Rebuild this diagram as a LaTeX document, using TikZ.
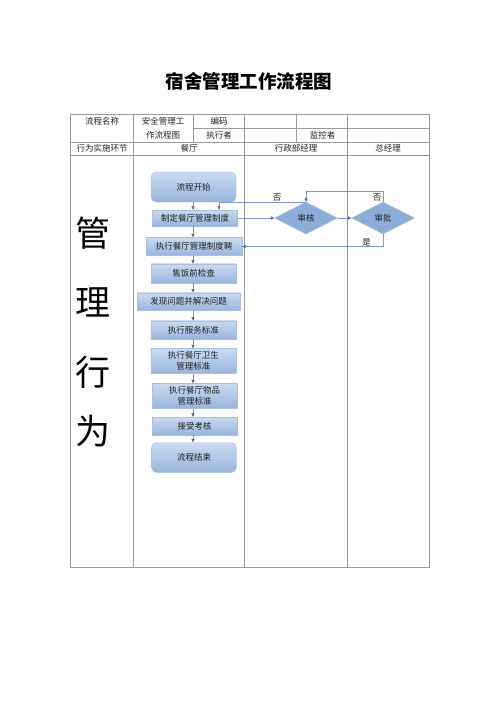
\documentclass[tikz,border=0pt]{standalone}
\usepackage{fontspec}
\setmainfont{Noto Sans CJK SC}
\usetikzlibrary{arrows.meta, positioning, shapes.geometric, calc}
\definecolor{CLine}{HTML}{9A9A9A}
\definecolor{CBoxTop}{HTML}{CBDAF0}
\definecolor{CBoxBot}{HTML}{98B4DC}
\definecolor{CBoxEdge}{HTML}{A9C0E2}
\definecolor{CDiamond}{HTML}{8DACD8}
\definecolor{CFlow}{HTML}{7F97C4}
\definecolor{CTip}{HTML}{4B6596}
\definecolor{CText}{HTML}{222222}

\begin{document}
\begin{tikzpicture}[x=1pt, y=-1pt,
    box/.style={draw=CBoxEdge, top color=CBoxTop, bottom color=CBoxBot, minimum width=85pt, inner sep=1pt, align=center, font=\fontsize{8.5}{10.5}\selectfont, text=CText},
    term/.style={box, rounded corners=5pt, minimum height=30pt},
    check/.style={diamond, draw=CBoxEdge, fill=CDiamond, aspect=2, minimum width=63pt, minimum height=32pt, inner sep=0pt, font=\fontsize{8.5}{10}\selectfont, text=CText},
    flow/.style={CFlow, line width=0.6pt, -{Triangle[length=3.5pt, width=3.2pt, color=CTip]}},
    cell/.style={font=\fontsize{8.5}{10}\selectfont, text=CText, inner sep=0pt}]
    \useasboundingbox (0,0) rectangle (500,707);

    % Title
    \node[font=\fontsize{18.5}{20}\selectfont\bfseries, text=black] (title) at (249,81.5) {宿舍管理工作流程图};

    % --- Form grid ---
    \draw[CLine, line width=0.8pt] (70.7,114.3) rectangle (429,567);
    \draw[CLine, line width=0.8pt] (70.7,142.3) -- (429,142.3);
    \draw[CLine, line width=0.8pt] (70.7,155) -- (429,155);
    \draw[CLine, line width=0.8pt] (193.3,128.3) -- (429,128.3);
    \draw[CLine, line width=0.8pt] (133.3,114.3) -- (133.3,567);
    \draw[CLine, line width=0.8pt] (193.3,114.3) -- (193.3,142.3);
    \draw[CLine, line width=0.8pt] (244.3,114.3) -- (244.3,567);
    \draw[CLine, line width=0.8pt] (296,114.3) -- (296,142.3);
    \draw[CLine, line width=0.8pt] (347.3,114.3) -- (347.3,567);

    % Header texts
    \node[cell] (nameH) at (102,121.5) {流程名称};
    \node[cell] (nameA) at (163,121.5) {安全管理工};
    \node[cell] (nameB) at (163,135.2) {作流程图};
    \node[cell] (codeH) at (219,121.5) {编码};
    \node[cell] (execH) at (219,135.2) {执行者};
    \node[cell] (monH) at (322.5,135.2) {监控者};
    \node[cell] (stepH) at (102,148.7) {行为实施环节};
    \node[cell] (laneA) at (189,148.7) {餐厅};
    \node[cell] (laneB) at (296,148.7) {行政部经理};
    \node[cell] (laneC) at (388,148.7) {总经理};

    % Vertical caption
    \foreach \ch/\y in {管/233, 理/302, 行/372, 为/431} {
        \node[font=\fontsize{35}{35}\selectfont, text=black] (act\y) at (93,\y) {\ch};
    }

    % --- Restaurant lane ---
    \node[term] (start) at (193.5,187) {流程开始};
    \node[box, minimum height=16pt] (rule) at (195,218) {制定餐厅管理制度};
    \node[box, minimum width=96pt, minimum height=18pt] (exec) at (194,246.5) {执行餐厅管理制度聘};
    \node[box, minimum height=19pt] (inspect) at (193.5,273.3) {售饭前检查};
    \node[box, minimum width=103pt, minimum height=17.5pt] (solve) at (188.7,301.5) {发现问题并解决问题};
    \node[box, minimum height=18.5pt] (service) at (193.3,330) {执行服务标准};
    \node[box, minimum height=25pt] (hygiene) at (193.3,361) {执行餐厅卫生\\管理标准};
    \node[box, minimum height=25pt] (goods) at (194.5,396) {执行餐厅物品\\管理标准};
    \node[box, minimum height=17.7pt] (assess) at (194.5,426) {接受考核};
    \node[term] (finish) at (194,457.5) {流程结束};

    \coordinate (spine) at (193,0);
    \foreach \a/\b in {start/rule, rule/exec, exec/inspect, inspect/solve, solve/service, service/hygiene, hygiene/goods, goods/assess, assess/finish} {
        \draw[flow] (\a.south -| spine) -- (\b.north -| spine);
    }

    % --- Managers ---
    \node[check] (review) at (306,218) {审核};
    \node[check] (approve) at (383,218) {审批};

    \draw[flow] (rule.east) -- (review.west);
    \draw[flow] (review.east) -- (approve.west);

    % Rejections
    \coordinate (back) at (219,0);
    \draw[flow] (review.north) -- (review.north -| back) -- (rule.north -| back);
    \node[cell] (noA) at (277,198) {否};
    \draw[flow] (approve.north) -- ++(0,-10.5) -| (review.north);
    \node[cell] (noB) at (377,197.5) {否};

    % Approval
    \draw[flow] (approve.south) |- (exec.east);
    \node[cell] (yes) at (366.5,242) {是};

\end{tikzpicture}
\end{document}
